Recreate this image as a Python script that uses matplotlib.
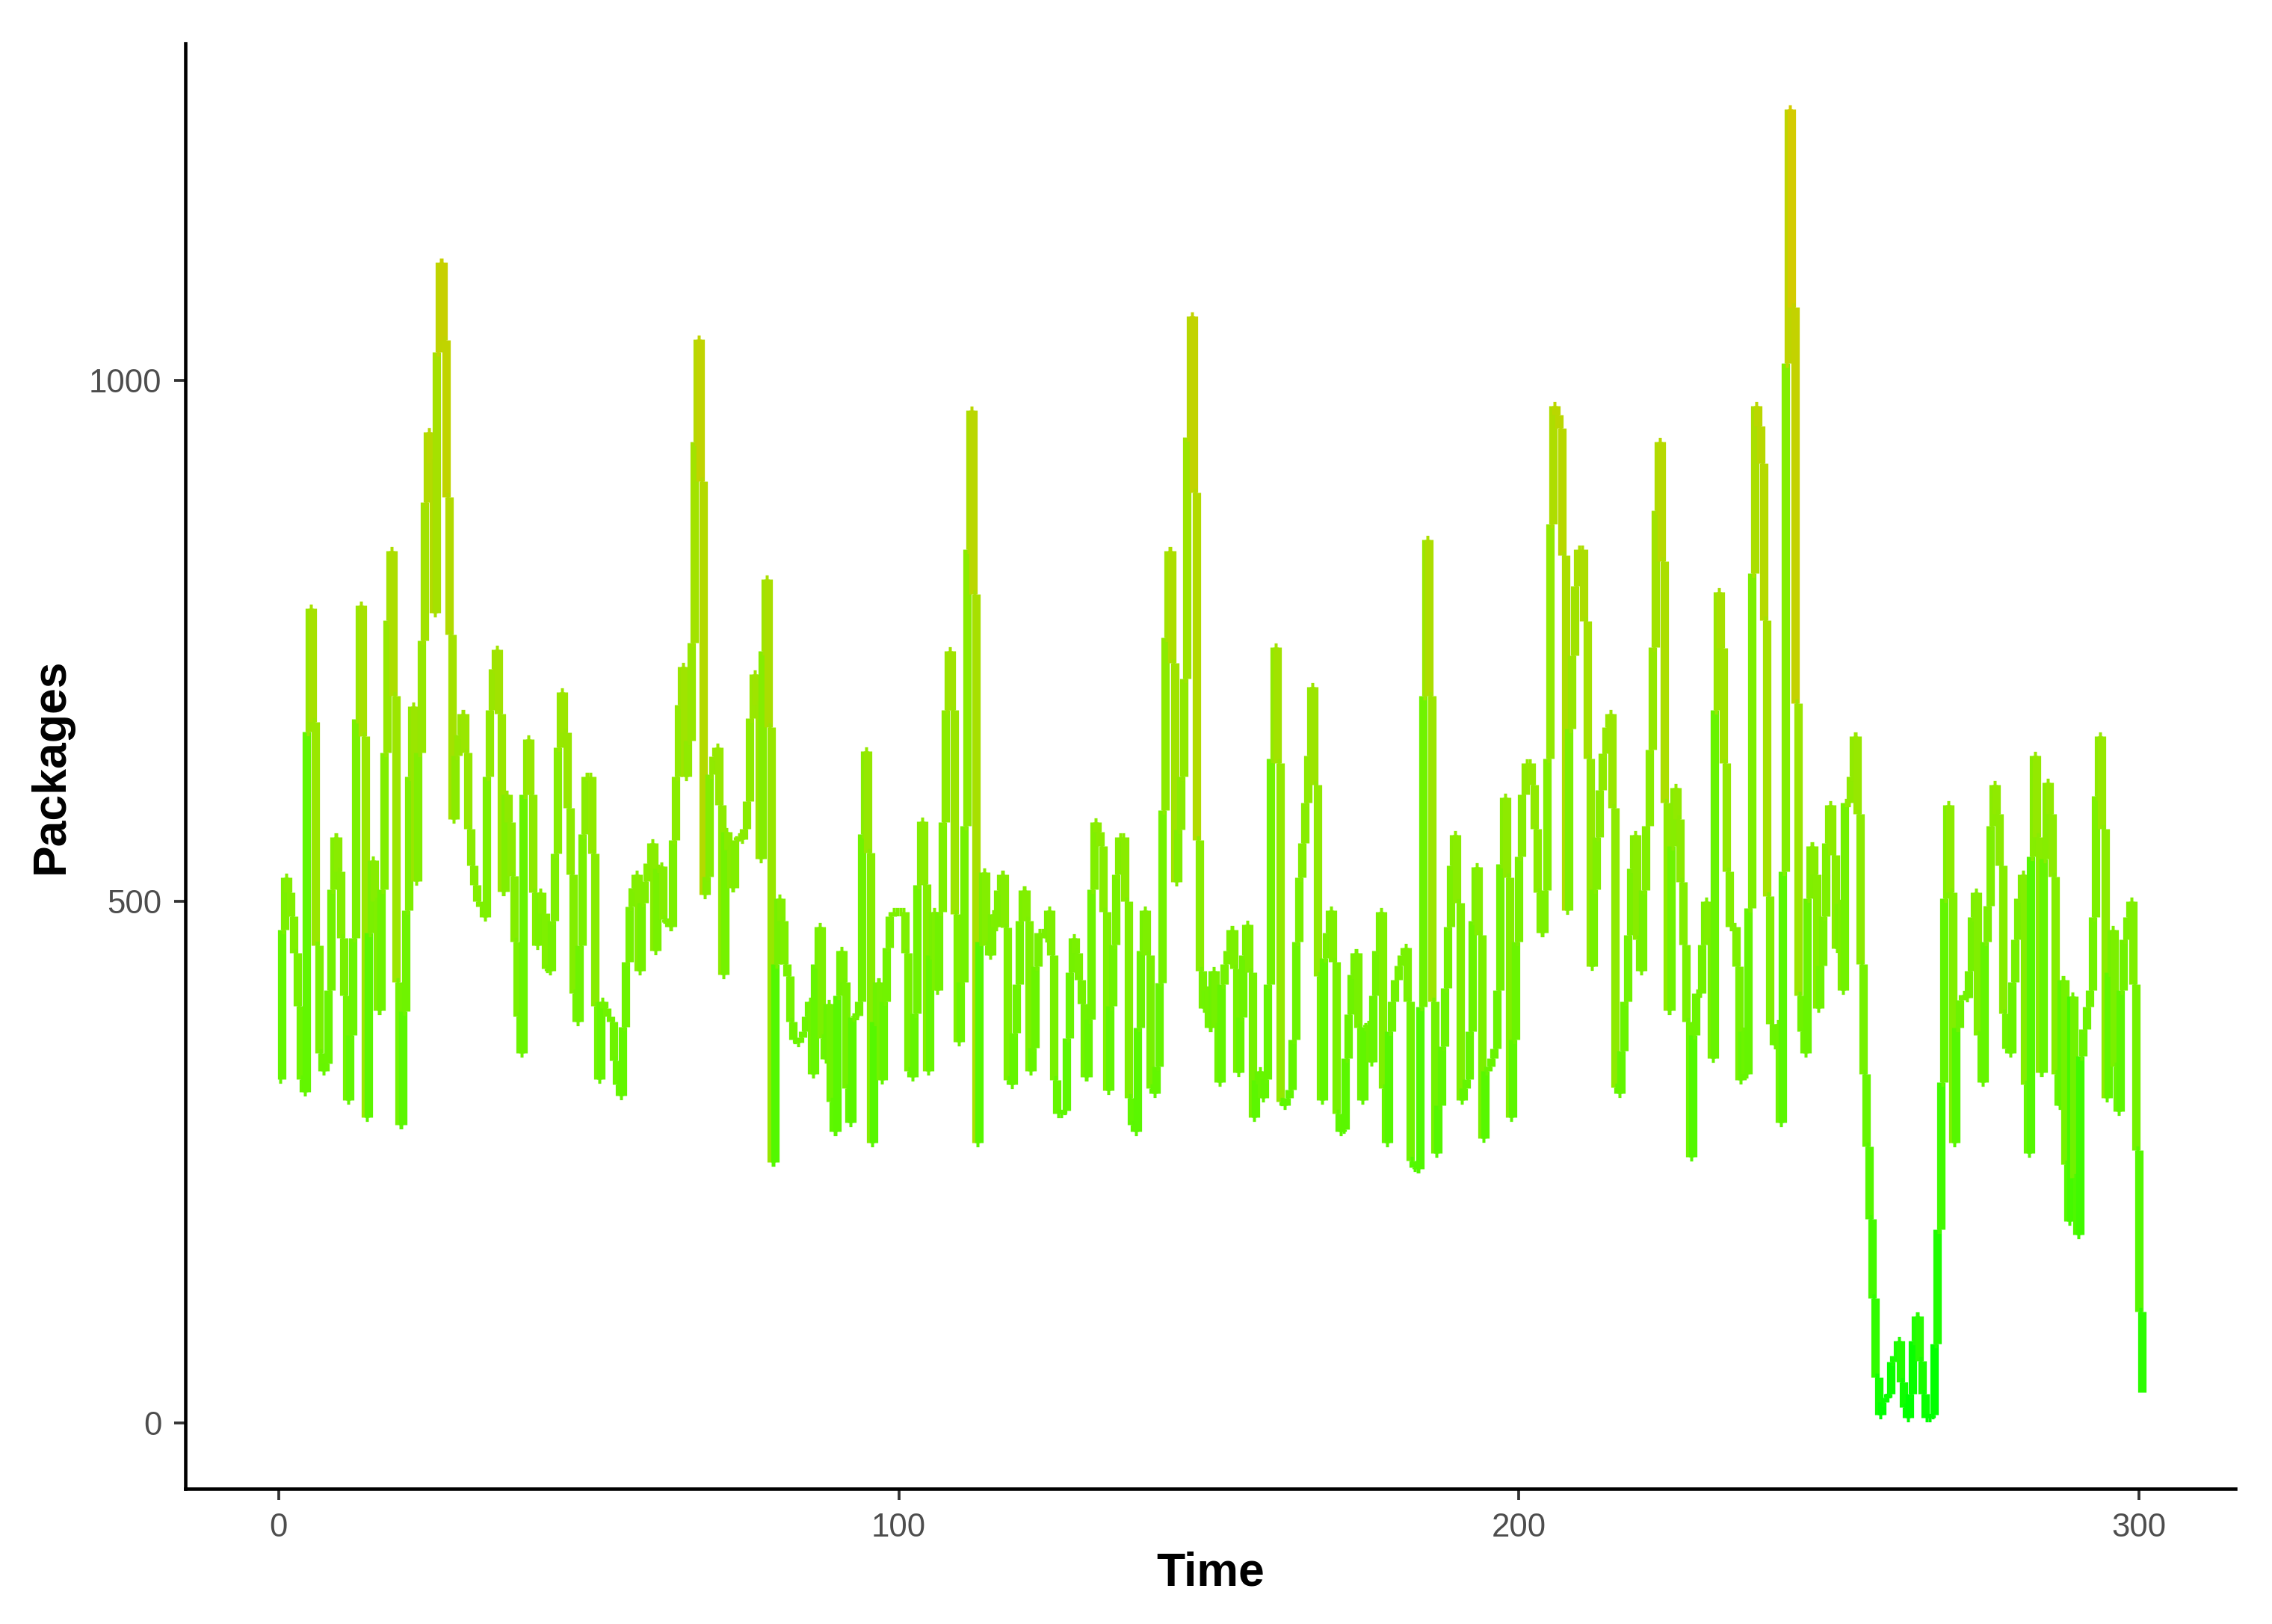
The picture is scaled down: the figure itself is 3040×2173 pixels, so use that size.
import numpy as np
import matplotlib
matplotlib.use("Agg")
import matplotlib.pyplot as plt
from matplotlib.collections import LineCollection
from matplotlib.colors import LinearSegmentedColormap

# packages per half second in chunks
STEP = 0.5

packages_000 = [
  330, 473, 523, 509, 486, 451, 400, 330, 318, 663, 781, 672, 458, 355, 338, 345, 415, 512, 562, 529,
  465, 410, 310, 372, 465, 675, 784, 659, 293, 470, 540, 500, 396, 512, 643, 770, 836, 697, 423, 286,
  395, 492, 620, 687, 520, 643, 750, 883, 950, 920, 777, 1027, 1113, 1038, 888, 756, 579, 640, 660, 680,
  643, 570, 535, 516, 500, 495, 485, 620, 684, 723, 742, 680, 510, 603, 576, 525, 462, 390, 355, 603,
  656, 603, 509, 458, 509, 489, 436, 434, 482, 546, 648, 701, 662, 590, 526, 412, 385, 458, 565, 620]

packages_050 = [
  620, 546, 400, 330, 404, 398, 390, 385, 348, 325, 314, 380, 442, 495, 513, 526, 434, 499, 520, 537,
  556, 453, 532, 534, 483, 480, 476, 559, 620, 689, 725, 620, 654, 748, 941, 1039, 903, 507, 524, 622,
  639, 648, 593, 430, 567, 550, 513, 559, 562, 560, 570, 596, 676, 718, 689, 541, 740, 809, 667, 250,
  440, 503, 482, 440, 429, 385, 368, 365, 370, 376, 390, 404, 335, 440, 476, 369, 349, 402, 308, 280,
  410, 453, 423, 321, 288, 389, 391, 404, 565, 644, 547, 269, 385, 423, 329, 404, 456, 486, 490, 490]

packages_100 = [
  490, 490, 451, 338, 332, 393, 516, 577, 517, 338, 449, 490, 415, 490, 576, 684, 740, 684, 488, 366,
  423, 573, 838, 971, 795, 269, 462, 528, 458, 449, 488, 476, 511, 526, 475, 329, 325, 374, 421, 482,
  511, 482, 338, 360, 438, 470, 470, 465, 492, 449, 329, 297, 297, 300, 369, 432, 465, 451, 425, 402,
  332, 387, 512, 576, 567, 553, 490, 319, 400, 459, 526, 562, 562, 500, 312, 286, 280, 379, 453, 492,
  449, 321, 316, 342, 422, 588, 753, 836, 729, 519, 569, 620, 714, 945, 1061, 892, 559, 434, 398, 415]

packages_150 = [
  379, 434, 380, 327, 421, 440, 453, 473, 436, 336, 389, 449, 478, 432, 293, 329, 338, 312, 330, 421,
  637, 744, 633, 308, 305, 312, 320, 368, 462, 523, 556, 595, 640, 706, 612, 429, 310, 446, 470, 492,
  442, 297, 280, 282, 350, 392, 430, 451, 379, 310, 380, 382, 346, 410, 453, 490, 321, 269, 376, 404,
  425, 439, 449, 456, 404, 252, 245, 244, 399, 697, 847, 697, 404, 259, 305, 361, 417, 476, 535, 564,
  499, 310, 321, 330, 376, 482, 533, 468, 273, 338, 342, 350, 359, 415, 536, 600, 523, 293, 368, 462,
  543, 603, 633, 633]

packages_202 = [
  612, 570, 509, 470, 511, 637, 862, 975, 967, 954, 832, 492, 666, 736, 803, 838, 838, 769, 637, 438,
  512, 562, 607, 642, 667, 680, 590, 322, 316, 357, 404, 468, 532, 564, 464, 434, 511, 573, 646, 744,
  875, 941, 826, 595, 396, 553, 609, 579, 519, 459, 385, 255, 372, 412, 412, 459, 500, 462, 350, 684,
  797, 743, 633, 529, 476, 476, 438, 329, 376, 335, 494, 815, 975, 956, 920, 770, 505, 383, 363, 383,
  288, 529, 1016, 1260, 1070, 690, 410, 376, 355, 503, 553, 526, 398, 439, 486, 556, 593, 545, 455, 498,
  415, 595]

packages_253 = [
  595, 620, 659, 584, 440, 335, 265, 196, 120, 44, 8, 20, 25, 28, 59, 65, 79, 40, 15, 5,
  28, 79, 103, 60, 28, 5, 5, 8, 76, 186, 327, 503, 593, 509, 269, 379, 406, 411, 408, 434,
  485, 509, 372, 327, 462, 496, 573, 612, 584, 535, 393, 359, 355, 423, 464, 503, 526, 325, 259, 543,
  640, 562, 336, 541, 614, 584, 524, 335, 305, 425, 248, 194, 409, 235, 181, 352, 378, 399, 415, 485,
  601, 659, 570, 312, 432, 473, 342, 299, 415, 464, 485, 500, 421, 262, 107, 30]

x_ticks = [0, 100, 200, 300]
y_ticks = [0, 500, 1000]

# green (low) -> olive yellow (high)
colour_values = [0, 100, 200, 330, 500, 650, 800, 950, 1100, 1260]
colour_hex = ["#00ff00", "#2cfc00", "#48f900", "#66f500", "#80ef00",
              "#96e800", "#a8e000", "#b8d800", "#c6d100", "#d4cb00"]


def build_series():
  y = np.array(packages_000 + packages_050 + packages_100 +
               packages_150 + packages_202 + packages_253, dtype=float)
  t = np.arange(len(y)) * STEP
  return t, y


def step_segments(t, y):
  # hold each value for one step, then jump: horizontal + vertical piece per point
  segs, vals = [], []
  for i in range(len(y) - 1):
    segs.append([(t[i], y[i]), (t[i + 1], y[i])])
    vals.append(y[i])
    segs.append([(t[i + 1], y[i]), (t[i + 1], y[i + 1])])
    vals.append(y[i])
  return segs, np.array(vals)


def plot_packages(t, y):
  lo, hi = y.min(), y.max()
  stops = [(v - colour_values[0]) / (colour_values[-1] - colour_values[0]) for v in colour_values]
  cmap = LinearSegmentedColormap.from_list("packages", list(zip(stops, colour_hex)))

  segs, vals = step_segments(t, y)
  cols = cmap((vals - lo) / (hi - lo))

  fig = plt.figure(figsize=(3040 / 300, 2173 / 300), dpi=300)
  ax = fig.add_axes([248 / 3040, 1 - 1992 / 2173, (2991 - 248) / 3040, (1992 - 58) / 2173])
  lc = LineCollection(segs, colors=cols, linewidths=2.7, capstyle="butt")
  ax.add_collection(lc)

  span_t = t[-1] - t[0]
  ax.set_xlim(t[0] - 0.05 * span_t, t[-1] + 0.05 * span_t)
  ax.set_ylim(lo - 0.05 * (hi - lo) - 5, hi + 0.05 * (hi - lo))

  for side in ["top", "right"]:
    ax.spines[side].set_visible(False)
  for side in ["left", "bottom"]:
    ax.spines[side].set_color("black")
    ax.spines[side].set_linewidth(1.1)

  ax.set_xticks(x_ticks)
  ax.set_yticks(y_ticks)
  ax.tick_params(length=3.6, width=0.9, color="#333333", labelcolor="#4d4d4d",
                 labelsize=10.5, pad=4)
  for lab in ax.get_xticklabels() + ax.get_yticklabels():
    lab.set_fontfamily("Liberation Sans")

  ax.set_xlabel("Time", fontsize=15, fontweight="bold", family="Liberation Sans", labelpad=2.5)
  ax.set_ylabel("Packages", fontsize=15, fontweight="bold", family="Liberation Sans", labelpad=5)
  fig.savefig("out.png", dpi=300, facecolor="white")


t, y = build_series()
plot_packages(t, y)
